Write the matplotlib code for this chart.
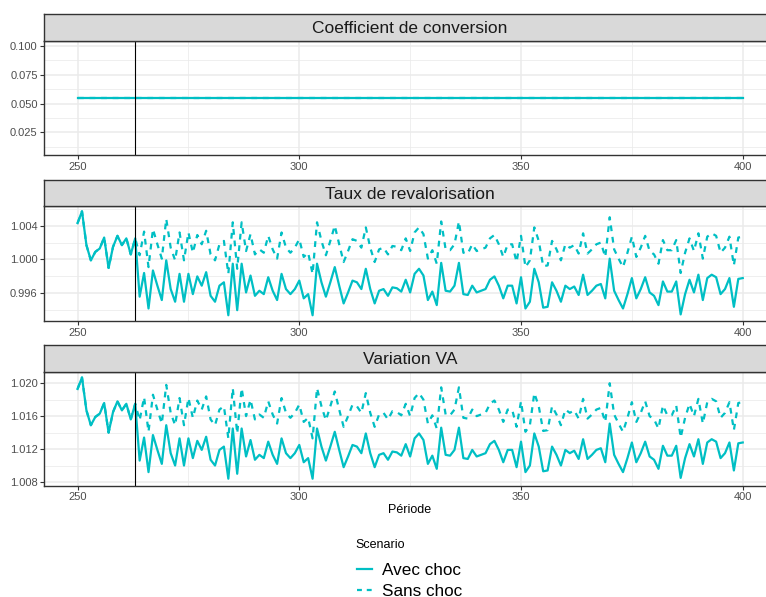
import numpy as np
import matplotlib
matplotlib.use("Agg")
import matplotlib.pyplot as plt
from matplotlib.lines import Line2D
from matplotlib.ticker import FixedLocator, FormatStrFormatter

plt.rcParams['font.family'] = ['Liberation Sans', 'DejaVu Sans']

periods = list(range(250, 401))
choc = 263

coef_avec = [0.055] * len(periods)
coef_sans = [0.055] * len(periods)

rev_avec = [
    1.0043, 1.0057, 1.0017, 0.9999, 1.0009, 1.0013, 1.0026, 0.9990, 1.0015, 1.0028,
    1.0017, 1.0025, 1.0006, 1.0025, 0.9956, 0.9984, 0.9942, 0.9987, 0.9969, 0.9952,
    0.9999, 0.9965, 0.9950, 0.9983, 0.9950, 0.9983, 0.9959, 0.9980, 0.9969, 0.9985,
    0.9957, 0.9950, 0.9969, 0.9973, 0.9934, 0.9995, 0.9940, 0.9995, 0.9961, 0.9981,
    0.9957, 0.9963, 0.9959, 0.9979, 0.9963, 0.9952, 0.9983, 0.9965, 0.9959, 0.9965,
    0.9975, 0.9954, 0.9959, 0.9934, 0.9995, 0.9973, 0.9956, 0.9973, 0.9991, 0.9969,
    0.9948, 0.9961, 0.9975, 0.9973, 0.9965, 0.9989, 0.9965, 0.9948, 0.9963, 0.9965,
    0.9957, 0.9967, 0.9966, 0.9962, 0.9976, 0.9961, 0.9983, 0.9989, 0.9981, 0.9952,
    0.9962, 0.9946, 0.9996, 0.9963, 0.9962, 0.9969, 0.9996, 0.9959, 0.9958, 0.9969,
    0.9961, 0.9963, 0.9965, 0.9976, 0.9980, 0.9969, 0.9954, 0.9969, 0.9969, 0.9948,
    0.9979, 0.9942, 0.9950, 0.9989, 0.9973, 0.9943, 0.9944, 0.9973, 0.9963, 0.9950,
    0.9969, 0.9965, 0.9968, 0.9958, 0.9982, 0.9958, 0.9963, 0.9969, 0.9971, 0.9954,
    1.0001, 0.9963, 0.9952, 0.9942, 0.9959, 0.9978, 0.9954, 0.9965, 0.9979, 0.9961,
    0.9957, 0.9946, 0.9974, 0.9962, 0.9962, 0.9974, 0.9935, 0.9959, 0.9976, 0.9961,
    0.9982, 0.9952, 0.9978, 0.9982, 0.9979, 0.9959, 0.9965, 0.9978, 0.9944, 0.9977,
    0.9978,
]
rev_sans = [
    1.0043, 1.0057, 1.0017, 0.9999, 1.0009, 1.0013, 1.0026, 0.9990, 1.0015, 1.0028,
    1.0017, 1.0025, 1.0006, 1.0025, 1.0005, 1.0033, 0.9991, 1.0036, 1.0018, 1.0001,
    1.0048, 1.0014, 0.9999, 1.0032, 0.9999, 1.0032, 1.0008, 1.0029, 1.0018, 1.0034,
    1.0006, 0.9999, 1.0018, 1.0022, 0.9983, 1.0044, 0.9989, 1.0044, 1.0010, 1.0030,
    1.0006, 1.0012, 1.0008, 1.0028, 1.0012, 1.0001, 1.0032, 1.0014, 1.0008, 1.0014,
    1.0024, 1.0003, 1.0008, 0.9983, 1.0044, 1.0022, 1.0005, 1.0022, 1.0040, 1.0018,
    0.9997, 1.0010, 1.0024, 1.0022, 1.0014, 1.0038, 1.0014, 0.9997, 1.0012, 1.0014,
    1.0006, 1.0016, 1.0015, 1.0011, 1.0025, 1.0010, 1.0032, 1.0038, 1.0030, 1.0001,
    1.0011, 0.9995, 1.0045, 1.0012, 1.0011, 1.0018, 1.0045, 1.0008, 1.0007, 1.0018,
    1.0010, 1.0012, 1.0014, 1.0025, 1.0029, 1.0018, 1.0003, 1.0018, 1.0018, 0.9997,
    1.0028, 0.9991, 0.9999, 1.0038, 1.0022, 0.9992, 0.9993, 1.0022, 1.0012, 0.9999,
    1.0018, 1.0014, 1.0017, 1.0007, 1.0031, 1.0007, 1.0012, 1.0018, 1.0020, 1.0003,
    1.0050, 1.0012, 1.0001, 0.9991, 1.0008, 1.0027, 1.0003, 1.0014, 1.0028, 1.0010,
    1.0006, 0.9995, 1.0023, 1.0011, 1.0011, 1.0023, 0.9984, 1.0008, 1.0025, 1.0010,
    1.0031, 1.0001, 1.0027, 1.0031, 1.0028, 1.0008, 1.0014, 1.0027, 0.9993, 1.0026,
    1.0027,
]
va_avec = [
    1.0193, 1.0207, 1.0167, 1.0149, 1.0159, 1.0163, 1.0176, 1.0140, 1.0165, 1.0178,
    1.0167, 1.0175, 1.0156, 1.0175, 1.0106, 1.0134, 1.0092, 1.0137, 1.0119, 1.0102,
    1.0149, 1.0115, 1.0100, 1.0133, 1.0100, 1.0133, 1.0109, 1.0130, 1.0119, 1.0135,
    1.0107, 1.0100, 1.0119, 1.0123, 1.0084, 1.0145, 1.0090, 1.0145, 1.0111, 1.0131,
    1.0107, 1.0113, 1.0109, 1.0129, 1.0113, 1.0102, 1.0133, 1.0115, 1.0109, 1.0115,
    1.0125, 1.0104, 1.0109, 1.0084, 1.0145, 1.0123, 1.0106, 1.0123, 1.0141, 1.0119,
    1.0098, 1.0111, 1.0125, 1.0123, 1.0115, 1.0139, 1.0115, 1.0098, 1.0113, 1.0115,
    1.0107, 1.0117, 1.0116, 1.0112, 1.0126, 1.0111, 1.0133, 1.0139, 1.0131, 1.0102,
    1.0112, 1.0096, 1.0146, 1.0113, 1.0112, 1.0119, 1.0146, 1.0109, 1.0108, 1.0119,
    1.0111, 1.0113, 1.0115, 1.0126, 1.0130, 1.0119, 1.0104, 1.0119, 1.0119, 1.0098,
    1.0129, 1.0092, 1.0100, 1.0139, 1.0123, 1.0093, 1.0094, 1.0123, 1.0113, 1.0100,
    1.0119, 1.0115, 1.0118, 1.0108, 1.0132, 1.0108, 1.0113, 1.0119, 1.0121, 1.0104,
    1.0151, 1.0113, 1.0102, 1.0092, 1.0109, 1.0128, 1.0104, 1.0115, 1.0129, 1.0111,
    1.0107, 1.0096, 1.0124, 1.0112, 1.0112, 1.0124, 1.0085, 1.0109, 1.0126, 1.0111,
    1.0132, 1.0102, 1.0128, 1.0132, 1.0129, 1.0109, 1.0115, 1.0128, 1.0094, 1.0127,
    1.0128,
]
va_sans = [
    1.0193, 1.0207, 1.0167, 1.0149, 1.0159, 1.0163, 1.0176, 1.0140, 1.0165, 1.0178,
    1.0167, 1.0175, 1.0156, 1.0175, 1.0155, 1.0183, 1.0141, 1.0186, 1.0168, 1.0151,
    1.0198, 1.0164, 1.0149, 1.0182, 1.0149, 1.0182, 1.0158, 1.0179, 1.0168, 1.0184,
    1.0156, 1.0149, 1.0168, 1.0172, 1.0133, 1.0194, 1.0139, 1.0194, 1.0160, 1.0180,
    1.0156, 1.0162, 1.0158, 1.0178, 1.0162, 1.0151, 1.0182, 1.0164, 1.0158, 1.0164,
    1.0174, 1.0153, 1.0158, 1.0133, 1.0194, 1.0172, 1.0155, 1.0172, 1.0190, 1.0168,
    1.0147, 1.0160, 1.0174, 1.0172, 1.0164, 1.0188, 1.0164, 1.0147, 1.0162, 1.0164,
    1.0156, 1.0166, 1.0165, 1.0161, 1.0175, 1.0160, 1.0182, 1.0188, 1.0180, 1.0151,
    1.0161, 1.0145, 1.0195, 1.0162, 1.0161, 1.0168, 1.0195, 1.0158, 1.0157, 1.0168,
    1.0160, 1.0162, 1.0164, 1.0175, 1.0179, 1.0168, 1.0153, 1.0168, 1.0168, 1.0147,
    1.0178, 1.0141, 1.0149, 1.0188, 1.0172, 1.0142, 1.0143, 1.0172, 1.0162, 1.0149,
    1.0168, 1.0164, 1.0167, 1.0157, 1.0181, 1.0157, 1.0162, 1.0168, 1.0170, 1.0153,
    1.0200, 1.0162, 1.0151, 1.0141, 1.0158, 1.0177, 1.0153, 1.0164, 1.0178, 1.0160,
    1.0156, 1.0145, 1.0173, 1.0161, 1.0161, 1.0173, 1.0134, 1.0158, 1.0175, 1.0160,
    1.0181, 1.0151, 1.0177, 1.0181, 1.0178, 1.0158, 1.0164, 1.0177, 1.0143, 1.0176,
    1.0177,
]

titres = ["Coefficient de conversion", "Taux de revalorisation", "Variation VA"]
series = [(coef_avec, coef_sans), (rev_avec, rev_sans), (va_avec, va_sans)]
scenarios = ["Avec choc", "Sans choc"]
y_major = [[0.025, 0.050, 0.075, 0.100],
           [0.996, 1.000, 1.004],
           [1.008, 1.012, 1.016, 1.020]]
y_minor = [[0.0125, 0.0375, 0.0625, 0.0875],
           [0.994, 0.998, 1.002, 1.006],
           [1.010, 1.014, 1.018]]
y_lims = [(0.0055, 0.1045), (0.99272, 1.00633), (1.00755, 1.0214)]

# panel boxes in pixels: (strip top, panel top, panel bottom)
boxes = [(14, 40.7, 155), (180, 206, 321), (345, 371.7, 485.7)]
W, H = 766, 597
x_left, x_right = 44.3, 776

col = "#00BFC4"
grid = "#EBEBEB"
dark = "#333333"
dash = (0, (2.6, 2.6))

fig = plt.figure(figsize=(W / 100, H / 100), dpi=100)


def frac(top, bottom):
    return [x_left / W, 1 - bottom / H, (x_right - x_left) / W, (bottom - top) / H]


for i in range(3):
    s_top, p_top, p_bot = boxes[i]
    ax = fig.add_axes(frac(p_top, p_bot))
    ax.set_xlim(242.5, 407.5)
    ax.set_ylim(*y_lims[i])
    ax.xaxis.set_major_locator(FixedLocator([250, 300, 350, 400]))
    ax.xaxis.set_minor_locator(FixedLocator([275, 325, 375]))
    ax.yaxis.set_major_locator(FixedLocator(y_major[i]))
    ax.yaxis.set_minor_locator(FixedLocator(y_minor[i]))
    ax.yaxis.set_major_formatter(FormatStrFormatter("%.3f"))
    ax.grid(which="major", color=grid, lw=1.1)
    ax.grid(which="minor", color=grid, lw=0.55)
    ax.set_axisbelow(True)
    ax.tick_params(which="major", length=2.75, width=0.8, color=dark,
                   labelsize=8, labelcolor="#4D4D4D", pad=2)
    ax.tick_params(which="minor", length=0)
    for sp in ax.spines.values():
        sp.set_color(dark)
        sp.set_linewidth(1.0)

    avec, sans = series[i]
    ax.plot(periods, sans, color=col, lw=1.6, ls=dash)
    ax.plot(periods, avec, color=col, lw=1.6)
    ax.axvline(choc, color="black", lw=0.8)

    # facet strip
    sax = fig.add_axes(frac(s_top, p_top))
    sax.set_facecolor("#D9D9D9")
    sax.set_xticks([])
    sax.set_yticks([])
    for sp in sax.spines.values():
        sp.set_color(dark)
        sp.set_linewidth(1.0)
    sax.text(0.5, 0.45, titres[i], ha="center", va="center", fontsize=12.5,
             color="#1A1A1A", transform=sax.transAxes)

fig.text(410 / W, 1 - 510 / H, "Période", ha="center", va="center", fontsize=9)

# legend below the panels
fig.text(355 / W, 1 - 545.5 / H, "Scenario", ha="left", va="center", fontsize=9)
key_styles = ["-", (0, (2.2, 2.2))]
for k, (lab, ls) in enumerate(zip(scenarios, key_styles)):
    yk = 1 - (569 + 20.5 * k) / H
    fig.add_artist(Line2D([357 / W, 372 / W], [yk, yk], transform=fig.transFigure,
                          color=col, lw=1.6, ls=ls))
    fig.text(382.5 / W, yk, lab, ha="left", va="center_baseline", fontsize=12.3)

fig.savefig("out.png", dpi=100)
